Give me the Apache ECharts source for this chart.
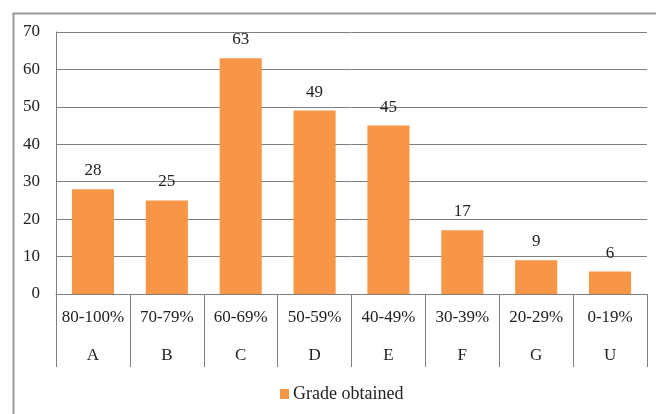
<!DOCTYPE html>
<html>
<head>
<meta charset="utf-8">
<script src="https://cdn.jsdelivr.net/npm/echarts@6/dist/echarts.min.js"></script>
<style>
  html, body { margin: 0; padding: 0; background: #fff; }
  #main { width: 656px; height: 414px; }
</style>
</head>
<body>
<div id="main"></div>
<script>
// chart data
const ranges = ['80-100%', '70-79%', '60-69%', '50-59%', '40-49%', '30-39%', '20-29%', '0-19%'];
const grades = ['A', 'B', 'C', 'D', 'E', 'F', 'G', 'U'];
const counts = [28, 25, 63, 49, 45, 17, 9, 6];
const seriesName = 'Grade obtained';

const chart = echarts.init(document.getElementById('main'));

const serif = '"Liberation Serif", "DejaVu Serif", serif';
const gray = '#7f7f7f';

var option = {
  animation: false,
  graphic: [{
    type: 'rect',
    left: 11,
    top: 11,
    shape: { width: 700, height: 460 },
    style: { fill: 'none', stroke: '#999', lineWidth: 2 },
    silent: true
  }],
  grid: {
    left: 56,
    right: 9,
    top: 32,
    bottom: 120,
    containLabel: false
  },
  legend: {
    top: 380,
    left: 275,
    icon: 'rect',
    itemWidth: 9,
    itemHeight: 10,
    itemGap: 4,
    textStyle: {
      fontFamily: serif,
      fontSize: 18,
      color: '#222',
      padding: [0, 0, 0, -1]
    },
    data: [seriesName]
  },
  xAxis: {
    type: 'category',
    data: ranges.map((r, i) => r + '\n' + grades[i]),
    axisLine: { lineStyle: { color: gray, width: 1 } },
    axisTick: {
      show: true,
      length: 73,
      interval: 0,
      lineStyle: { color: gray, width: 1 }
    },
    axisLabel: {
      interval: 0,
      margin: 5,
      color: '#222',
      fontFamily: serif,
      fontSize: 17,
      lineHeight: 38
    }
  },
  yAxis: {
    type: 'value',
    min: 0,
    max: 70,
    interval: 10,
    axisLine: { show: true, lineStyle: { color: gray, width: 1 } },
    axisTick: { show: false },
    splitLine: { lineStyle: { color: gray, width: 1 } },
    axisLabel: {
      margin: 16,
      color: '#222',
      fontFamily: serif,
      fontSize: 17
    }
  },
  series: [{
    name: seriesName,
    type: 'bar',
    data: counts,
    barCategoryGap: '43%',
    itemStyle: { color: '#F79646' },
    label: {
      show: true,
      position: 'top',
      distance: 10,
      color: '#222',
      fontFamily: serif,
      fontSize: 17
    }
  }]
};

chart.setOption(option);
</script>
</body>
</html>
